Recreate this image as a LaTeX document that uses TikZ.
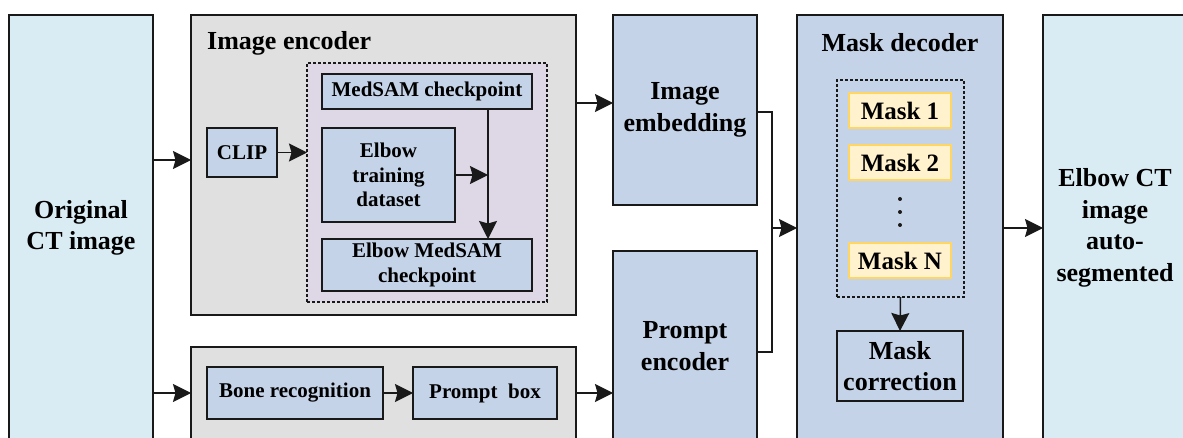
\documentclass[tikz,border=0pt]{standalone}
\usepackage{fontspec}
\setmainfont{Liberation Serif}
\usetikzlibrary{arrows.meta}
\definecolor{ctblue}{RGB}{218,236,243}
\definecolor{graybg}{RGB}{224,224,224}
\definecolor{boxblue}{RGB}{197,211,232}
\definecolor{lilac}{RGB}{222,215,230}
\definecolor{maskfill}{RGB}{255,242,204}
\definecolor{maskdraw}{RGB}{255,214,100}
\definecolor{linec}{RGB}{25,25,25}
\begin{document}
\begin{tikzpicture}[x=1pt,y=-1pt,
  base/.style={draw=linec, line width=1.8pt, inner sep=0pt, outer sep=0pt,
    align=center, anchor=north west, font=\bfseries\fontsize{21}{24.5}\selectfont},
  big/.style={font=\bfseries\fontsize{26}{31.5}\selectfont},
  bluebox/.style={base, fill=boxblue},
  dashbox/.style={base, line width=1.4pt, dash pattern=on 3pt off 2pt},
  maskbox/.style={base, draw=maskdraw, fill=maskfill, line width=1.8pt,
    font=\bfseries\fontsize{25}{30}\selectfont},
  conn/.style={draw=linec, line width=1.5pt},
  arr/.style={conn, -{Stealth[length=18pt,width=18pt,inset=2.5pt]}},
  title/.style={inner sep=0pt, font=\bfseries\fontsize{26}{31.5}\selectfont}
]
\useasboundingbox (0,0) rectangle (1183,438);
\clip (0,0) rectangle (1183,438);
\fill[white] (0,0) rectangle (1183,438);

% helper coordinates
\coordinate (yA) at (0,160);
\coordinate (yB) at (0,393);
\coordinate (yC) at (0,103);
\coordinate (yD) at (0,112);
\coordinate (yE) at (0,352);
\coordinate (yM) at (0,228);
\coordinate (xv) at (488,0);
\coordinate (xj) at (772,0);

% left input
\node[base, big, fill=ctblue, minimum width=144pt, minimum height=426pt] (ct) at (9,15) {Original\\CT image};

% image encoder
\node[base, fill=graybg, minimum width=385pt, minimum height=300pt] (enc) at (191,15) {};
\node[title, anchor=west] (enctitle) at (207,43) {Image encoder};
\node[dashbox, fill=lilac, minimum width=240pt, minimum height=239pt] (ckbox) at (307,63) {};
\node[bluebox, minimum width=210pt, minimum height=35pt] (medsam) at (322,74) {MedSAM checkpoint};
\node[bluebox, minimum width=133pt, minimum height=94pt] (train) at (322,128) {Elbow\\training\\dataset};
\node[bluebox, minimum width=210pt, minimum height=52pt] (emed) at (322,239) {Elbow MedSAM\\checkpoint};
\node[bluebox, minimum width=70pt, minimum height=49pt] (clip) at (207,128) {CLIP};

% prompt branch
\node[base, fill=graybg, minimum width=385pt, minimum height=100pt] (prm) at (191,347) {};
\node[bluebox, minimum width=176pt, minimum height=52pt] (bone) at (207,367) {Bone recognition};
\node[bluebox, minimum width=144pt, minimum height=52pt] (pbox) at (413,367) {Prompt\ \ box};

% embedding / prompt encoder
\node[bluebox, big, minimum width=144pt, minimum height=190pt] (emb) at (613,15) {Image\\embedding};
\node[bluebox, big, minimum width=144pt, minimum height=190pt] (penc) at (613,251) {Prompt\\encoder};

% mask decoder
\node[bluebox, minimum width=206pt, minimum height=440pt] (dec) at (797,15) {};
\node[title] (dectitle) at (900,43) {Mask decoder};
\node[dashbox, minimum width=127pt, minimum height=217pt] (mdash) at (837,80) {};
\node[maskbox, minimum width=102pt, minimum height=35pt] (m1) at (849,93) {Mask 1};
\node[maskbox, minimum width=102pt, minimum height=35pt] (m2) at (849,145) {Mask 2};
\node[maskbox, minimum width=102pt, minimum height=35pt] (mN) at (849,243) {Mask N};
\fill[linec] (900,199) circle (2pt) (900,212) circle (2pt) (900,225) circle (2pt);
\node[bluebox, big, minimum width=126pt, minimum height=70pt] (mcorr) at (837,331) {Mask\\correction};

% output
\node[base, big, fill=ctblue, minimum width=144pt, minimum height=426pt] (out) at (1043,15) {Elbow CT\\image\\auto-\\segmented};

% connectors
\draw[arr] (ct.east |- yA) -- (enc.west |- yA);
\draw[arr] (ct.east |- yB) -- (prm.west |- yB);
\draw[arr] (clip.east) -- (ckbox.west |- clip.east);
\draw[arr] (medsam.south -| xv) -- (emed.north -| xv);
\draw[arr] (train.east) -- (xv |- train.east);
\draw[arr] (enc.east |- yC) -- (emb.west |- yC);
\draw[arr] (bone.east) -- (pbox.west);
\draw[arr] (prm.east |- yB) -- (penc.west |- yB);
\draw[conn] (emb.east |- yD) -| (xj |- yE) -- (penc.east |- yE);
\draw[arr] (xj |- yM) -- (dec.west |- yM);
\draw[arr] (mdash.south) -- (mcorr.north);
\draw[arr] (dec.east |- yM) -- (out.west |- yM);
\end{tikzpicture}
\end{document}
